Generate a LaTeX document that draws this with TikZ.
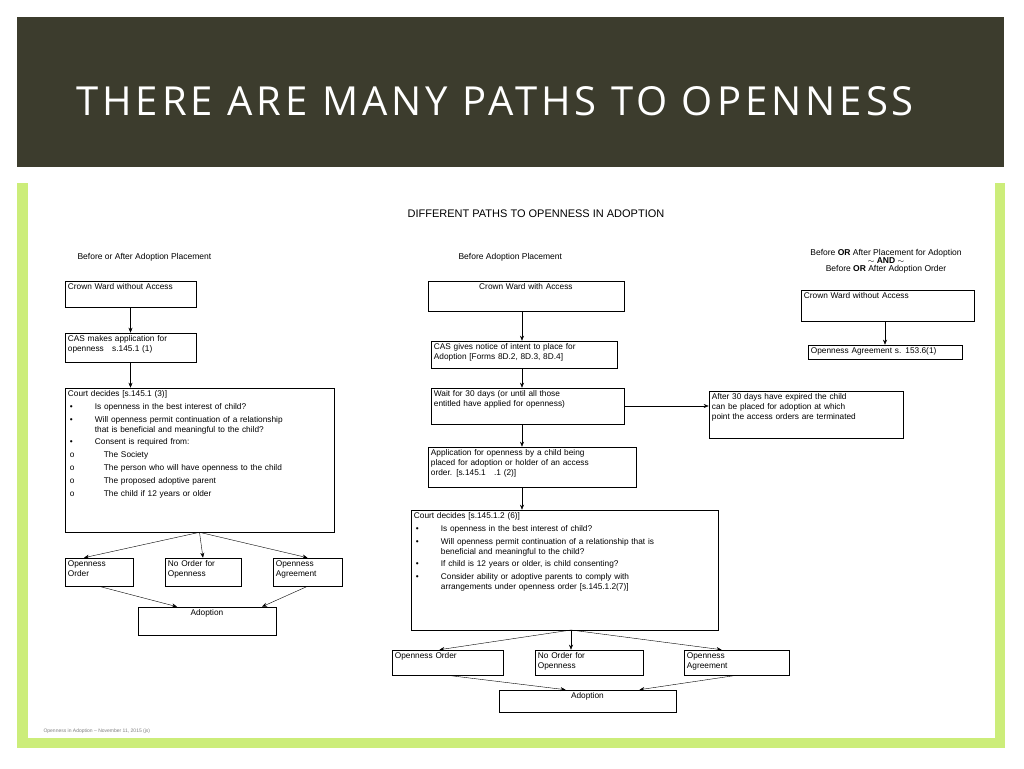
\documentclass[tikz,border=0pt]{standalone}
\usepackage{fontspec}
\setmainfont{Liberation Sans}
\newfontfamily\titlefont[LetterSpace=10]{Open Sans}
\usetikzlibrary{arrows.meta}
\definecolor{hdrgrey}{rgb}{0.235,0.235,0.176}
\definecolor{framegreen}{rgb}{0.80,0.93,0.48}
\newcommand{\bx}[6]{%
  \node[box,minimum width=#4pt-#2pt,minimum height=#5pt-#3pt] (#1) at ({(#2+#4)/2},{(#3+#5)/2}) {};
  \node[txt,text width=#4pt-#2pt-6pt] (#1-t) at (#1.north west) {#6};}
\newcommand{\bl}[2][200pt]{\makebox[27pt][l]{\hspace{2pt}•}\parbox[t]{#1}{\raggedright #2}}
\newcommand{\ci}[1]{\makebox[36pt][l]{\hspace{2pt}o}#1}
\begin{document}
\begin{tikzpicture}[x=1pt,y=-1pt,>={Stealth[length=5pt,width=4pt]},
  box/.style={draw,line width=0.6pt,inner sep=0pt},
  txt/.style={anchor=north west,inner sep=3pt,align=left,font=\fontsize{8.3}{10}\selectfont},
  lbl/.style={font=\fontsize{8.5}{10}\selectfont}]
\useasboundingbox (0,0) rectangle (1024,768);
% slide
\fill[hdrgrey] (17,17) rectangle (1004,167);
\node[text=white,font=\fontsize{40}{44}\titlefont,anchor=west,inner sep=0pt] (title) at (76,101) {THERE ARE MANY PATHS TO OPENNESS};
\fill[framegreen] (17,183) rectangle (1005,748);
\fill[white] (28,183) rectangle (995,738);
\node[font=\fontsize{11}{13}\selectfont] (head) at (536,214) {DIFFERENT PATHS TO OPENNESS IN ADOPTION};
\node[lbl,anchor=west] (h1) at (74,257) {Before or After Adoption Placement};
\node[lbl,anchor=west] (h2) at (455,257) {Before Adoption Placement};
\node[lbl,align=center] (h3) at (886,261) {Before \textbf{OR} After Placement for Adoption\\[-2pt] $\sim$ \textbf{AND} $\sim$\\[-2pt] Before \textbf{OR} After Adoption Order};
% left column
\bx{lcw}{65}{281}{196}{307}{Crown Ward without Access}
\bx{lcas}{65}{333}{196}{362}{CAS makes application for\\ openness\quad s.145.1 (1)}
\bx{lcourt}{65}{388}{334}{532}{Court decides [s.145.1 (3)]\\[3pt]
\bl{Is openness in the best interest of child?}\\[3pt]
\bl{Will openness permit continuation of a relationship that is beneficial and meaningful to the child?}\\[3pt]
\bl{Consent is required from:}\\[3pt]
\ci{The Society}\\[3pt]
\ci{The person who will have openness to the child}\\[3pt]
\ci{The proposed adoptive parent}\\[3pt]
\ci{The child if 12 years or older}}
\bx{loo}{65}{558}{133}{586}{Openness\\ Order}
\bx{lno}{165}{558}{241}{586}{No Order for\\ Openness}
\bx{loa}{273}{558}{342}{586}{Openness\\ Agreement}
\bx{lad}{138}{607}{276}{635}{\hfill Adoption\hfill\null}
\draw[->] (lcw) -- (lcas);
\draw[->] (lcas) -- (lcourt.north -| lcas);
\draw[->] (lcourt.south) -- ([xshift=-15pt]loo.north);
\draw[->] (lcourt.south) -- (lno.north);
\draw[->] (lcourt.south) -- (loa.north);
\draw[->] (loo.south) -- ([xshift=-30pt]lad.north);
\draw[->] (loa.south) -- ([xshift=55pt]lad.north);
% middle column
\bx{mcw}{428}{281}{624}{311}{\hfill Crown Ward with Access\hfill\null}
\bx{mcas}{431}{341}{617}{368}{CAS gives notice of intent to place for\\ Adoption [Forms 8D.2, 8D.3, 8D.4]}
\bx{mwait}{431}{388}{624}{424}{Wait for 30 days (or until all those\\ entitled have applied for openness)}
\bx{mafter}{709}{391}{903}{438}{After 30 days have expired the child\\ can be placed for adoption at which\\ point the access orders are terminated}
\bx{mapp}{428}{447}{636}{487}{Application for openness by a child being\\ placed for adoption or holder of an access\\ order. [s.145.1\quad .1 (2)]}
\bx{mcourt}{411}{510}{718}{630}{Court decides [s.145.1.2 (6)]\\[3pt]
\bl[250pt]{Is openness in the best interest of child?}\\[3pt]
\bl[250pt]{Will openness permit continuation of a relationship that is beneficial and meaningful to the child?}\\[3pt]
\bl[250pt]{If child is 12 years or older, is child consenting?}\\[3pt]
\bl[235pt]{Consider ability or adoptive parents to comply with arrangements under openness order [s.145.1.2(7)]}}
\bx{moo}{392}{650}{503}{675}{Openness Order}
\bx{mno}{535}{650}{643}{675}{No Order for\\ Openness}
\bx{moa}{684}{650}{789}{675}{Openness\\ Agreement}
\bx{mad}{499}{690}{676}{712}{\hfill Adoption\hfill\null}
\coordinate (mx) at (522,0);
\coordinate (mbot) at (571,630);
\draw[->] (mcw.south -| mx) -- (mcas.north -| mx);
\draw[->] (mcas.south -| mx) -- (mwait.north -| mx);
\draw[->] (mwait.east) -- (mafter.west |- mwait.east);
\draw[->] (mwait.south -| mx) -- (mapp.north -| mx);
\draw[->] (mapp.south -| mx) -- (mcourt.north -| mx);
\draw[->] (mbot) -- ([xshift=-8pt]moo.north);
\draw[->] (mbot) -- (mbot |- mno.north);
\draw[->] (mbot) -- ([xshift=-15pt]moa.north);
\draw[->] (moo.south) -- ([xshift=-22pt]mad.north);
\draw[->] (moa.south) -- ([xshift=52pt]mad.north);
% right column
\bx{rcw}{801}{290}{974}{321}{Crown Ward without Access}
\bx{roa}{808}{345}{962}{359}{Openness Agreement s. 153.6(1)}
\draw[->] (rcw.south -| roa) -- (roa.north);
% footer
\node[font=\fontsize{5}{6}\selectfont,text=gray,anchor=west] (foot) at (40,731) {Openness in Adoption -- November 11, 2015 (js)};
\end{tikzpicture}
\end{document}
